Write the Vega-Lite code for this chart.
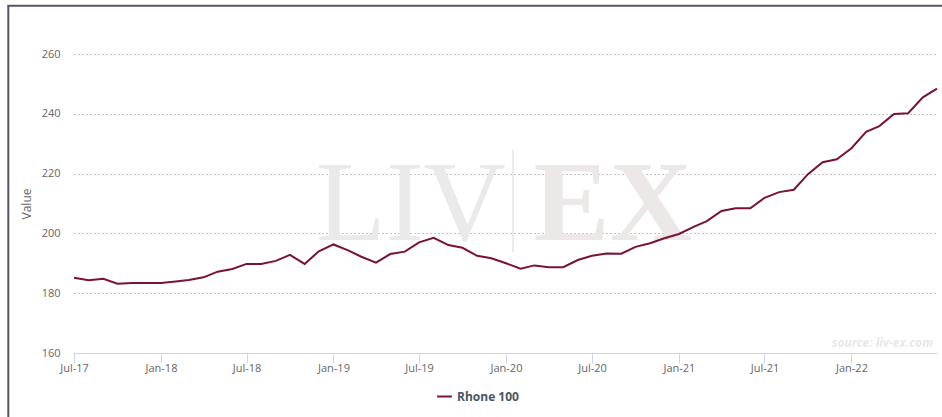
{
  "$schema": "https://vega.github.io/schema/vega-lite/v6.json",
  "width": 863,
  "height": 299,
  "autosize": {"type": "none"},
  "padding": {"left": 74, "top": 54, "right": 5, "bottom": 64},
  "background": "white",
  "config": {
    "view": {"stroke": null},
    "font": "Open Sans"
  },
  "datasets": {
    "series": [
      {"date": "2017-07-01", "value": 185.2, "series": "Rhone 100"},
      {"date": "2017-08-01", "value": 184.3, "series": "Rhone 100"},
      {"date": "2017-09-01", "value": 184.8, "series": "Rhone 100"},
      {"date": "2017-10-01", "value": 183.2, "series": "Rhone 100"},
      {"date": "2017-11-01", "value": 183.4, "series": "Rhone 100"},
      {"date": "2017-12-01", "value": 183.4, "series": "Rhone 100"},
      {"date": "2018-01-01", "value": 183.4, "series": "Rhone 100"},
      {"date": "2018-02-01", "value": 183.9, "series": "Rhone 100"},
      {"date": "2018-03-01", "value": 184.4, "series": "Rhone 100"},
      {"date": "2018-04-01", "value": 185.3, "series": "Rhone 100"},
      {"date": "2018-05-01", "value": 187.2, "series": "Rhone 100"},
      {"date": "2018-06-01", "value": 188.1, "series": "Rhone 100"},
      {"date": "2018-07-01", "value": 189.8, "series": "Rhone 100"},
      {"date": "2018-08-01", "value": 189.8, "series": "Rhone 100"},
      {"date": "2018-09-01", "value": 190.8, "series": "Rhone 100"},
      {"date": "2018-10-01", "value": 192.8, "series": "Rhone 100"},
      {"date": "2018-11-01", "value": 189.8, "series": "Rhone 100"},
      {"date": "2018-12-01", "value": 194.0, "series": "Rhone 100"},
      {"date": "2019-01-01", "value": 196.3, "series": "Rhone 100"},
      {"date": "2019-02-01", "value": 194.3, "series": "Rhone 100"},
      {"date": "2019-03-01", "value": 192.2, "series": "Rhone 100"},
      {"date": "2019-04-01", "value": 190.2, "series": "Rhone 100"},
      {"date": "2019-05-01", "value": 193.1, "series": "Rhone 100"},
      {"date": "2019-06-01", "value": 193.9, "series": "Rhone 100"},
      {"date": "2019-07-01", "value": 197.0, "series": "Rhone 100"},
      {"date": "2019-08-01", "value": 198.5, "series": "Rhone 100"},
      {"date": "2019-09-01", "value": 196.1, "series": "Rhone 100"},
      {"date": "2019-10-01", "value": 195.2, "series": "Rhone 100"},
      {"date": "2019-11-01", "value": 192.5, "series": "Rhone 100"},
      {"date": "2019-12-01", "value": 191.7, "series": "Rhone 100"},
      {"date": "2020-01-01", "value": 190.0, "series": "Rhone 100"},
      {"date": "2020-02-01", "value": 188.2, "series": "Rhone 100"},
      {"date": "2020-03-01", "value": 189.3, "series": "Rhone 100"},
      {"date": "2020-04-01", "value": 188.7, "series": "Rhone 100"},
      {"date": "2020-05-01", "value": 188.7, "series": "Rhone 100"},
      {"date": "2020-06-01", "value": 191.1, "series": "Rhone 100"},
      {"date": "2020-07-01", "value": 192.5, "series": "Rhone 100"},
      {"date": "2020-08-01", "value": 193.3, "series": "Rhone 100"},
      {"date": "2020-09-01", "value": 193.2, "series": "Rhone 100"},
      {"date": "2020-10-01", "value": 195.5, "series": "Rhone 100"},
      {"date": "2020-11-01", "value": 196.7, "series": "Rhone 100"},
      {"date": "2020-12-01", "value": 198.4, "series": "Rhone 100"},
      {"date": "2021-01-01", "value": 199.8, "series": "Rhone 100"},
      {"date": "2021-02-01", "value": 202.2, "series": "Rhone 100"},
      {"date": "2021-03-01", "value": 204.1, "series": "Rhone 100"},
      {"date": "2021-04-01", "value": 207.5, "series": "Rhone 100"},
      {"date": "2021-05-01", "value": 208.4, "series": "Rhone 100"},
      {"date": "2021-06-01", "value": 208.4, "series": "Rhone 100"},
      {"date": "2021-07-01", "value": 211.9, "series": "Rhone 100"},
      {"date": "2021-08-01", "value": 213.8, "series": "Rhone 100"},
      {"date": "2021-09-01", "value": 214.6, "series": "Rhone 100"},
      {"date": "2021-10-01", "value": 219.8, "series": "Rhone 100"},
      {"date": "2021-11-01", "value": 223.8, "series": "Rhone 100"},
      {"date": "2021-12-01", "value": 224.8, "series": "Rhone 100"},
      {"date": "2022-01-01", "value": 228.5, "series": "Rhone 100"},
      {"date": "2022-02-01", "value": 234.0, "series": "Rhone 100"},
      {"date": "2022-03-01", "value": 235.9, "series": "Rhone 100"},
      {"date": "2022-04-01", "value": 239.9, "series": "Rhone 100"},
      {"date": "2022-05-01", "value": 240.2, "series": "Rhone 100"},
      {"date": "2022-06-01", "value": 245.5, "series": "Rhone 100"},
      {"date": "2022-07-01", "value": 248.4, "series": "Rhone 100"}
    ]
  },
  "layer": [
    {
      "data": {"values": [{}]},
      "mark": {"type": "rule", "color": "#55556a", "strokeWidth": 2},
      "encoding": {
        "x": {"datum": {"year": 2017, "month": 2, "date": 12, "utc": true}, "type": "temporal"},
        "y": {"datum": 276.1, "type": "quantitative"},
        "y2": {"datum": 120}
      }
    },
    {
      "data": {"values": [{}]},
      "mark": {"type": "rule", "color": "#55556a", "strokeWidth": 2},
      "encoding": {
        "x": {"datum": {"year": 2017, "month": 2, "date": 10, "utc": true}, "type": "temporal"},
        "x2": {"datum": {"year": 2022, "month": 8, "date": 15, "utc": true}},
        "y": {"datum": 276.1, "type": "quantitative"}
      }
    },
    {
      "data": {"values": [{}]},
      "mark": {"type": "text", "text": "LIV", "font": "Liberation Serif", "fontSize": 114, "color": "#eaeaea", "align": "center", "baseline": "alphabetic"},
      "encoding": {
        "x": {"datum": {"year": 2019, "month": 6, "date": 14, "utc": true}, "type": "temporal"},
        "y": {"datum": 197.8, "type": "quantitative"}
      }
    },
    {
      "data": {"values": [{}]},
      "mark": {"type": "text", "text": "EX", "font": "Liberation Serif", "fontWeight": "bold", "fontSize": 114, "color": "#ebe8e7", "align": "center", "baseline": "alphabetic"},
      "encoding": {
        "x": {"datum": {"year": 2020, "month": 8, "date": 14, "utc": true}, "type": "temporal"},
        "y": {"datum": 197.8, "type": "quantitative"}
      }
    },
    {
      "data": {"values": [{}]},
      "mark": {"type": "rule", "color": "#e4e4e4", "strokeWidth": 1.5},
      "encoding": {
        "x": {"datum": {"year": 2020, "month": 1, "date": 16, "utc": true}, "type": "temporal"},
        "y": {"datum": 193.8, "type": "quantitative"},
        "y2": {"datum": 228}
      }
    },
    {
      "data": {"values": [{}]},
      "mark": {"type": "text", "text": "source: liv-ex.com", "font": "Open Sans", "fontStyle": "italic", "fontWeight": "bold", "fontSize": 12, "color": "#e8e8e8", "align": "right", "baseline": "alphabetic", "dx": -4},
      "encoding": {
        "x": {"datum": {"year": 2022, "month": 7, "date": 1, "utc": true}, "type": "temporal"},
        "y": {"datum": 162, "type": "quantitative"}
      }
    },
    {
      "data": {"name": "series"},
      "mark": {"type": "line", "strokeWidth": 2, "interpolate": "linear"},
      "encoding": {
        "x": {
          "field": "date",
          "type": "temporal",
          "scale": {"type": "utc", "domain": [{"year": 2017, "month": 7, "date": 1, "utc": true}, {"year": 2022, "month": 7, "date": 1, "utc": true}]},
          "axis": {
            "title": null,
            "format": "%b-%y",
            "values": [
              {"year": 2017, "month": 7, "date": 1, "utc": true},
              {"year": 2018, "month": 1, "date": 1, "utc": true},
              {"year": 2018, "month": 7, "date": 1, "utc": true},
              {"year": 2019, "month": 1, "date": 1, "utc": true},
              {"year": 2019, "month": 7, "date": 1, "utc": true},
              {"year": 2020, "month": 1, "date": 1, "utc": true},
              {"year": 2020, "month": 7, "date": 1, "utc": true},
              {"year": 2021, "month": 1, "date": 1, "utc": true},
              {"year": 2021, "month": 7, "date": 1, "utc": true},
              {"year": 2022, "month": 1, "date": 1, "utc": true}
            ],
            "grid": false,
            "domainColor": "#ccd6eb",
            "tickColor": "#ccd6eb",
            "tickSize": 10,
            "labelPadding": -1,
            "labelFontSize": 11,
            "labelColor": "#666666",
            "labelFont": "Open Sans",
            "labelFlush": false,
            "labelOverlap": false
          }
        },
        "y": {
          "field": "value",
          "type": "quantitative",
          "scale": {"domain": [160, 260], "zero": false, "nice": false},
          "axis": {
            "title": "Value",
            "titleFont": "Open Sans",
            "titleFontWeight": "normal",
            "titleFontSize": 12,
            "titleColor": "#666666",
            "titlePadding": 8,
            "values": [160, 180, 200, 220, 240, 260],
            "domain": false,
            "ticks": false,
            "labelPadding": 14,
            "labelFontSize": 11,
            "labelColor": "#666666",
            "labelFont": "Open Sans",
            "grid": true,
            "gridDash": [1, 3],
            "gridColor": "#888888",
            "gridWidth": 1
          }
        },
        "color": {
          "field": "series",
          "type": "nominal",
          "scale": {"range": ["#7b1236"]},
          "legend": {
            "title": null,
            "orient": "none",
            "legendX": 362,
            "legendY": 334,
            "direction": "horizontal",
            "symbolType": "stroke",
            "symbolStrokeWidth": 2,
            "symbolSize": 220,
            "labelFont": "Open Sans",
            "labelFontSize": 12,
            "labelFontWeight": "bold",
            "labelColor": "#4a5563"
          }
        }
      }
    }
  ]
}
